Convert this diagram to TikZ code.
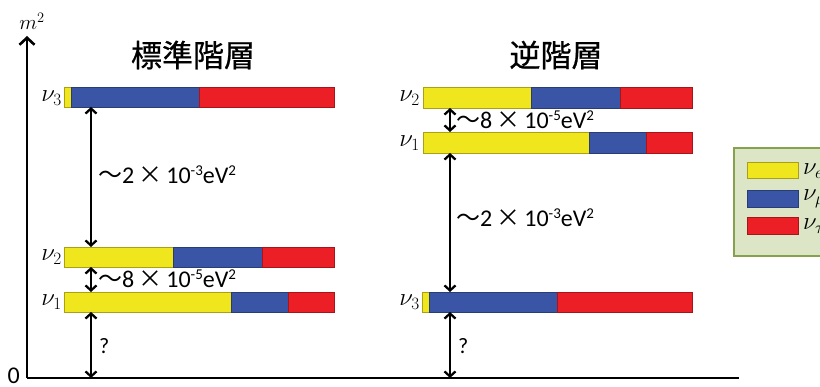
\documentclass[tikz,border=0pt]{standalone}
\usepackage{fontspec}
\setmainfont{Carlito}
\newfontfamily\cjk{Noto Sans CJK JP}
\newfontfamily\cjkt[FakeBold=0.6]{Noto Sans CJK JP}
\usetikzlibrary{arrows.meta}
\definecolor{ylw}{HTML}{F0E61E}
\definecolor{blu}{HTML}{3A55A5}
\definecolor{rd}{HTML}{EC1F26}
\definecolor{lgfill}{HTML}{DCE6C6}
\definecolor{lgline}{HTML}{86A24F}
\tikzset{
  seg/.style={draw=#1!70!black, line width=0.6pt},
  ysg/.style={fill=ylw, seg=ylw},
  bsg/.style={fill=blu, seg=blu},
  rsg/.style={fill=rd, seg=rd},
  dbl/.style={line width=2.3pt, {Straight Barb[length=5pt,width=11pt]}-{Straight Barb[length=5pt,width=11pt]}},
  axis/.style={line width=2.6pt},
  gap/.style={anchor=base west, font=\fontsize{24}{26}\selectfont, inner sep=0pt},
  nulab/.style={anchor=east, font=\fontsize{23}{25}\selectfont, inner sep=0pt},
  ttl/.style={font=\cjkt\fontsize{31}{34}\selectfont, inner sep=0pt},
  qlab/.style={anchor=west, font=\fontsize{22}{24}\selectfont, inner sep=0pt},
  lglab/.style={anchor=west, inner sep=0pt, font=\fontsize{23}{25}\selectfont}
}
\newcommand{\wv}{{\cjk 〜}}
\newcommand{\tms}{\,{\cjk ×}\,}
\newcommand{\sps}[1]{\raisebox{8pt}{\fontsize{15}{15}\selectfont #1}}
\begin{document}
\begin{tikzpicture}[x=1pt,y=-1pt]
\useasboundingbox (0,0) rectangle (820,387);
\clip (0,0) rectangle (820,387);
% axes
\coordinate (O) at (27,378);
\coordinate (Ytop) at (27,36);
\coordinate (Xend) at (739,378);
\draw[axis, -{Straight Barb[length=7pt,width=15pt]}] (O) -- (Ytop);
\draw[axis] (O) -- (Xend);
\node[anchor=base east, font=\fontsize{24}{26}\selectfont, inner sep=0pt] (zero) at (20,384) {0};
\node[anchor=south, inner sep=0pt, font=\fontsize{22}{24}\selectfont] (m2) at (32,30) {$m^2$};
% titles
\node[ttl] (t1) at (193,55) {標準階層};
\node[ttl] (t2) at (556,55) {逆階層};
% ---- normal hierarchy
\fill[ysg] (64,87) rectangle (71,107);
\fill[bsg] (71,87) rectangle (199,107);
\fill[rsg] (199,87) rectangle (334,107);
\node[nulab] (n3l) at (62,98) {$\nu_3$};
\fill[ysg] (64,247) rectangle (173,267);
\fill[bsg] (173,247) rectangle (262,267);
\fill[rsg] (262,247) rectangle (334,267);
\node[nulab] (n2l) at (62,257) {$\nu_2$};
\fill[ysg] (64,292) rectangle (231,312);
\fill[bsg] (231,292) rectangle (288,312);
\fill[rsg] (288,292) rectangle (334,312);
\node[nulab] (n1l) at (62,302) {$\nu_1$};
\coordinate (a1) at (91,107);
\coordinate (a2) at (91,247);
\coordinate (a3) at (91,267);
\coordinate (a4) at (91,292);
\coordinate (a5) at (91,312);
\coordinate (a6) at (91,378);
\draw[dbl] (a1) -- (a2);
\draw[dbl] (a3) -- (a4);
\draw[dbl] (a5) -- (a6);
\node[gap] (g1) at (98,184) {\wv 2\tms 10\sps{-3}eV\sps{2}};
\node[gap] (g2) at (98,288) {\wv 8\tms 10\sps{-5}eV\sps{2}};
\node[qlab] (q1) at (99,346) {?};
% ---- inverted hierarchy
\fill[ysg] (423,87) rectangle (531,108);
\fill[bsg] (531,87) rectangle (620,108);
\fill[rsg] (620,87) rectangle (692,108);
\node[nulab] (n2r) at (420,98) {$\nu_2$};
\fill[ysg] (423,132) rectangle (589,153);
\fill[bsg] (589,132) rectangle (646,153);
\fill[rsg] (646,132) rectangle (692,153);
\node[nulab] (n1r) at (420,143) {$\nu_1$};
\fill[ysg] (422,292) rectangle (429,312);
\fill[bsg] (429,292) rectangle (557,312);
\fill[rsg] (557,292) rectangle (692,312);
\node[nulab] (n3r) at (420,302) {$\nu_3$};
\coordinate (b1) at (450,108);
\coordinate (b2) at (450,132);
\coordinate (b3) at (450,153);
\coordinate (b4) at (450,292);
\coordinate (b5) at (450,312);
\coordinate (b6) at (450,378);
\draw[dbl] (b1) -- (b2);
\draw[dbl] (b3) -- (b4);
\draw[dbl] (b5) -- (b6);
\node[gap] (g3) at (456,129) {\wv 8\tms 10\sps{-5}eV\sps{2}};
\node[gap] (g4) at (456,227) {\wv 2\tms 10\sps{-3}eV\sps{2}};
\node[qlab] (q2) at (458,346) {?};
% ---- legend
\draw[fill=lgfill, draw=lgline, line width=1.4pt] (734,148) rectangle (840,256);
\fill[ysg] (747,162) rectangle (798,178);
\fill[bsg] (747,190) rectangle (798,207);
\fill[rsg] (747,217) rectangle (798,234);
\node[lglab] (le) at (803,171) {$\nu_e$};
\node[lglab] (lm) at (803,199) {$\nu_\mu$};
\node[lglab] (lt) at (803,226) {$\nu_\tau$};
\end{tikzpicture}
\end{document}
